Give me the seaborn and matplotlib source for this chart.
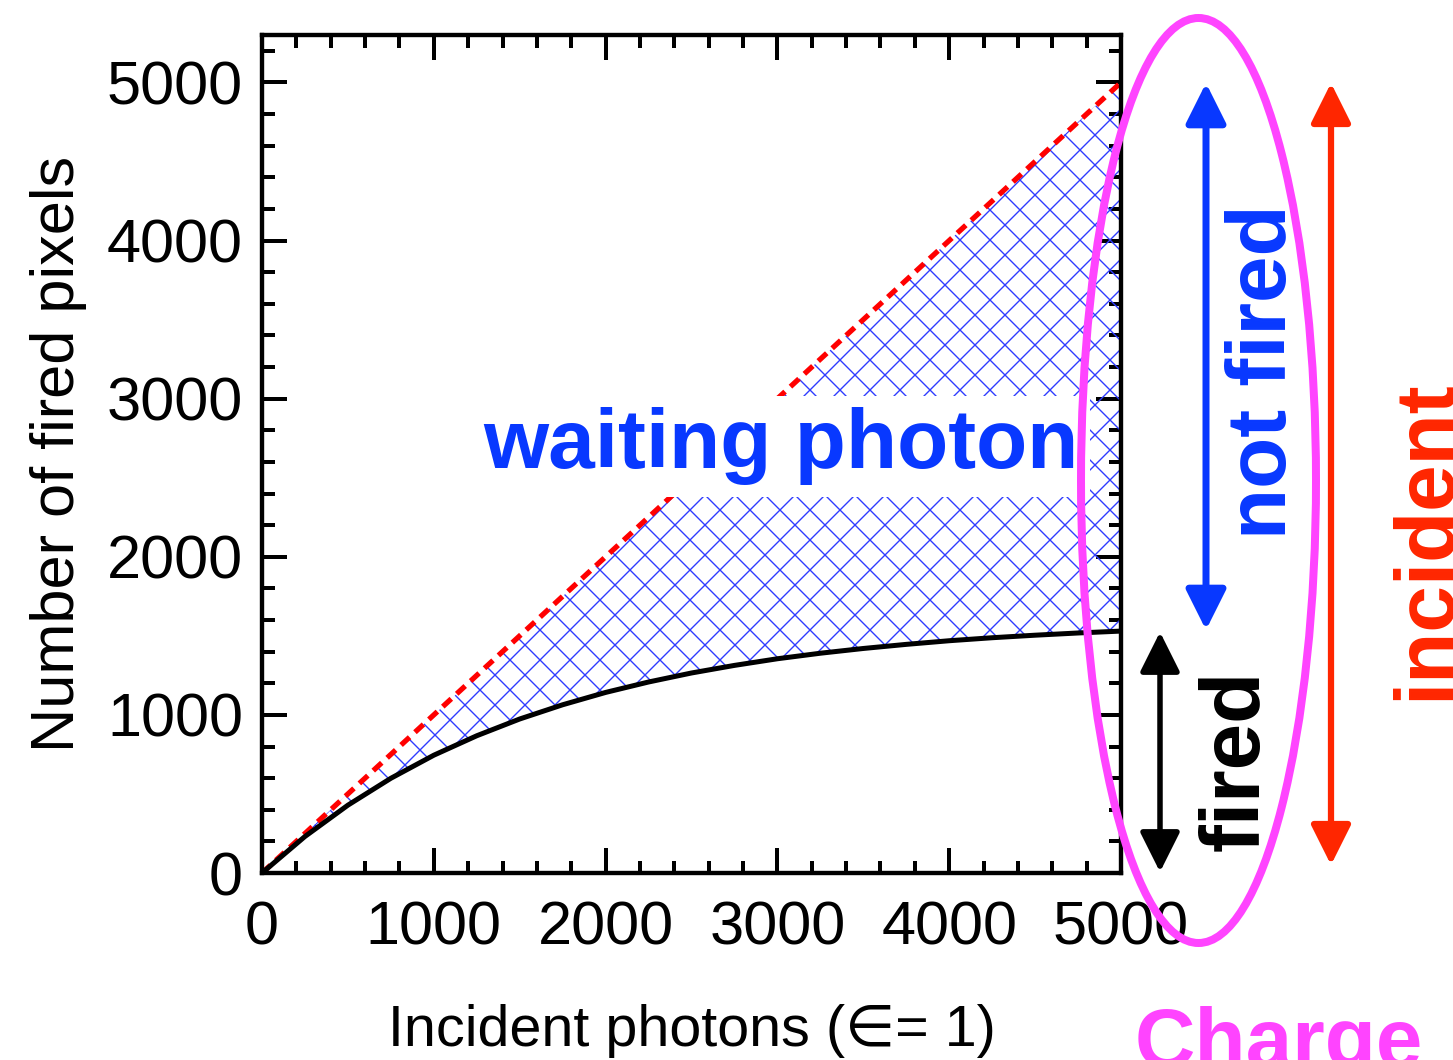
import numpy as np
import pandas as pd
import matplotlib
matplotlib.use("Agg")
import matplotlib.pyplot as plt
from matplotlib.patches import Ellipse, FancyArrowPatch
from matplotlib.ticker import MultipleLocator
import seaborn as sns

# ---------------- data ----------------
incident_photons = [0, 250, 500, 750, 1000, 1250, 1500, 1750, 2000, 2250, 2500,
                    2750, 3000, 3250, 3500, 3750, 4000, 4250, 4500, 4750, 5000]
fired_pixels = [0, 231, 429, 599, 745, 868, 974, 1064, 1142, 1208, 1265,
                1313, 1355, 1390, 1420, 1446, 1469, 1488, 1504, 1518, 1530]
ideal_pixels = [0, 250, 500, 750, 1000, 1250, 1500, 1750, 2000, 2250, 2500,
                2750, 3000, 3250, 3500, 3750, 4000, 4250, 4500, 4750, 5000]
x_ticks = [0, 1000, 2000, 3000, 4000, 5000]
y_ticks = [0, 1000, 2000, 3000, 4000, 5000]

df = pd.DataFrame({"x": incident_photons, "fired": fired_pixels, "ideal": ideal_pixels})

# ---------------- style ----------------
sns.set_style("ticks")
plt.rcParams["font.family"] = ["Liberation Sans", "DejaVu Sans"]
plt.rcParams["hatch.linewidth"] = 0.55
plt.rcParams["text.color"] = "black"
plt.rcParams["axes.labelcolor"] = "black"
plt.rcParams["xtick.color"] = "black"
plt.rcParams["ytick.color"] = "black"
plt.rcParams["xtick.labelcolor"] = "black"
plt.rcParams["ytick.labelcolor"] = "black"

DPI = 180
W, H = 1453, 1060
fig = plt.figure(figsize=(W / DPI, H / DPI), dpi=DPI)

def fx(px):
    return px / W

def fy(py):
    return 1 - py / H

ax = fig.add_axes([fx(262), fy(873), fx(1121) - fx(262), fy(35) - fy(873)])

BLUE = "#0838ff"
HATCH_BLUE = "#2f3cff"
RED = "#ff2600"
MAGENTA = "#ff44ff"

# hatched region between fired and ideal
ax.fill_between(df["x"], df["fired"], df["ideal"], facecolor="none",
                edgecolor=HATCH_BLUE, hatch="xx", linewidth=0, zorder=1)

sns.lineplot(data=df, x="x", y="ideal", ax=ax, color="#ff0000", lw=2.1,
             linestyle=(0, (2.2, 1.4)), zorder=2)
sns.lineplot(data=df, x="x", y="fired", ax=ax, color="black", lw=2.0, zorder=3)

ax.set_xlim(0, 5000)
ax.set_ylim(0, 5300)
ax.set_xticks(x_ticks)
ax.set_yticks(y_ticks)
ax.xaxis.set_minor_locator(MultipleLocator(200))
ax.yaxis.set_minor_locator(MultipleLocator(200))
ax.tick_params(which="both", direction="in", top=True, right=True, width=1.6,
               color="black", labelcolor="black")
ax.tick_params(which="major", length=10.2)
ax.tick_params(which="minor", length=5)
ax.tick_params(axis="x", which="major", pad=11, labelsize=24.5)
ax.tick_params(axis="y", which="major", pad=7.6, labelsize=24.5)
for sp in ax.spines.values():
    sp.set_linewidth(1.75)
    sp.set_color("black")
    sp.set_zorder(5)

ax.set_xlabel("Incident photons (\u2208= 1)", fontsize=23, color="black",
              family=["Liberation Sans", "DejaVu Sans"])
ax.set_ylabel("Number of fired pixels", fontsize=24.5, color="black")
ax.xaxis.set_label_coords(0.5, -0.156)
ax.yaxis.set_label_coords(-0.204, 0.5)

ax.text(3021, 2560, "waiting photon", color=BLUE, fontsize=33.5,
        fontweight="bold", ha="center", va="baseline", zorder=4,
        bbox=dict(boxstyle="square,pad=0.14", facecolor="white",
                  edgecolor="none"))

# ---------------- annotations outside the axes ----------------
def add_arrow(x, y0, y1, color, lw):
    arr = FancyArrowPatch((fx(x), fy(y0)), (fx(x), fy(y1)),
                          transform=fig.transFigure, arrowstyle="<|-|>",
                          mutation_scale=34, color=color, lw=lw,
                          shrinkA=0, shrinkB=0, zorder=6)
    fig.add_artist(arr)

add_arrow(1206, 83, 630, BLUE, 2.8)
add_arrow(1160, 632, 872, "black", 2.2)
add_arrow(1331, 83, 865, RED, 2.5)

fig.text(fx(1286), fy(372), "not fired", color=BLUE, fontsize=33.5,
         fontweight="bold", rotation=90, rotation_mode="anchor",
         ha="center", va="baseline")
fig.text(fx(1259), fy(760), "fired", color="black", fontsize=33.5,
         fontweight="bold", rotation=90, rotation_mode="anchor",
         ha="center", va="baseline")
fig.text(fx(1449), fy(540), "incident", color=RED, fontsize=33.5,
         fontweight="bold", rotation=90, rotation_mode="anchor",
         ha="center", va="baseline")
fig.text(fx(1279), fy(1067), "Charge", color=MAGENTA, fontsize=33.5,
         fontweight="bold", ha="center", va="baseline")

ell = Ellipse((fx(1198.5), fy(480.5)), width=235 / W, height=925 / H,
              transform=fig.transFigure, fill=False, edgecolor=MAGENTA,
              lw=3.2, zorder=7)
fig.add_artist(ell)

fig.savefig("out.png", dpi=DPI, facecolor="white")
